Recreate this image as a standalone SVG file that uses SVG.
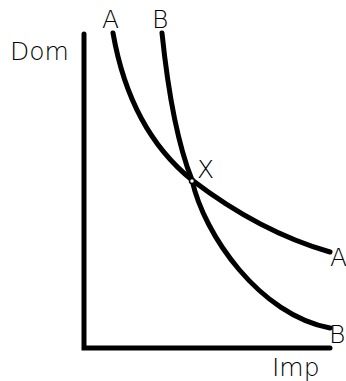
<svg xmlns="http://www.w3.org/2000/svg" width="346" height="381" viewBox="0 0 346 381">
<style>
.ax{stroke:#000;stroke-width:5;fill:none;stroke-linecap:round}
.cv{stroke:#000;stroke-width:5;fill:none;stroke-linecap:round}
text{font-family:"DejaVu Sans",sans-serif;font-size:25px;font-weight:300;fill:#000}
</style>
<rect width="346" height="381" fill="#fff"/>
<g id="axes">
<path class="ax" d="M84,34 V348 H330"/>
</g>
<g id="connectors">
<path id="curveA" class="cv" d="M113,33 Q130,130 192,180 Q260,232 330,252"/>
<path id="curveB" class="cv" d="M162,33 Q172,130 192,180 C204,235 260,315 330,328"/>
</g>
<g id="pointX">
<circle cx="192" cy="181" r="2.5" fill="#fff" stroke="#000" stroke-width="1.5"/>
<text x="197" y="178">X</text>
</g>
<g id="labels">
<text x="10" y="60">Dom</text>
<text x="272" y="376">Imp</text>
<text x="102" y="28">A</text>
<text x="152" y="28">B</text>
<text x="330" y="266">A</text>
<text x="329" y="343">B</text>
</g>
</svg>
